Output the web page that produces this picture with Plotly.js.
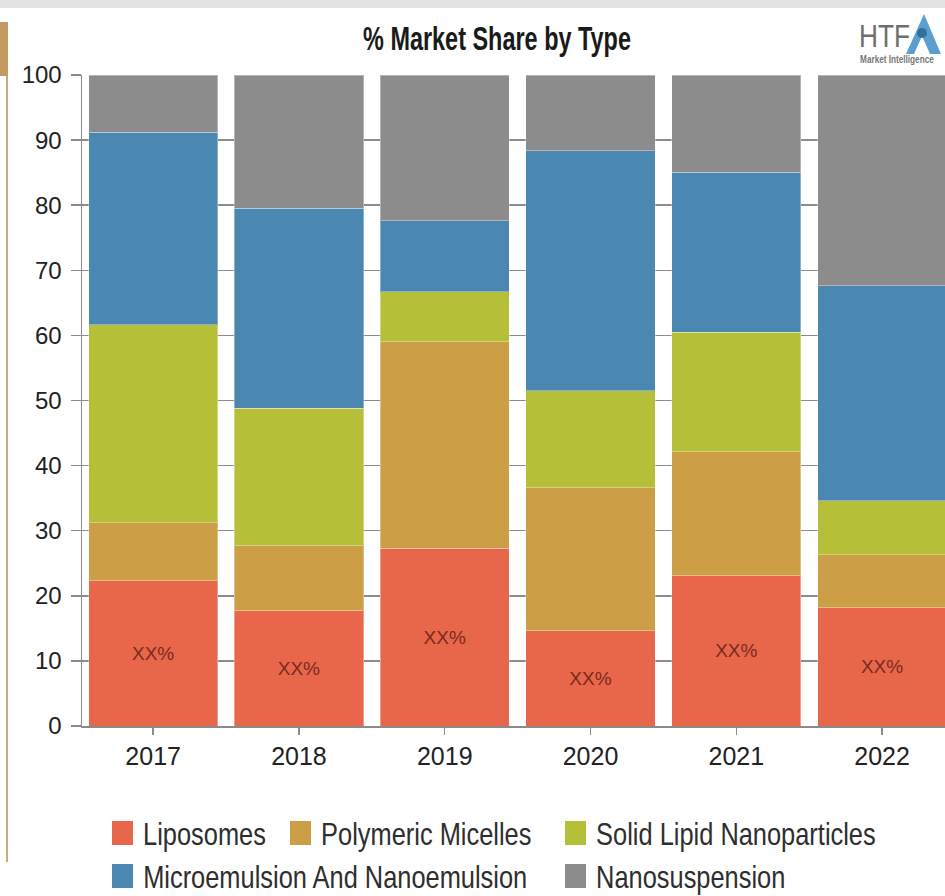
<!DOCTYPE html>
<html>
<head>
<meta charset="utf-8">
<script src="https://cdn.plot.ly/plotly-3.0.1.min.js"></script>
<style>
  html, body { margin: 0; padding: 0; background: #ffffff; overflow: hidden; }
  #chart { width: 960px; height: 896px; }
  /* condensed look for the title and the free-standing labels */
  #chart .gtitle {
    transform-box: fill-box;
    transform-origin: 50% 50%;
    transform: scaleX(0.69);
  }
  #chart .annotation-text {
    transform-box: fill-box;
    transform-origin: 0% 50%;
    transform: scaleX(0.82);
  }
</style>
</head>
<body>
<div id="chart"></div>
<script>
// Market share by product type, per year (percent of total, stacked to 100)
const years = ['2017', '2018', '2019', '2020', '2021', '2022'];
const liposomes = [22.3, 17.7, 27.3, 14.6, 23.1, 18.2];
const polymericMicelles = [8.9, 10.0, 31.7, 22.0, 19.0, 8.1];
const solidLipidNanoparticles = [30.4, 21.1, 7.7, 14.9, 18.4, 8.3];
const microNanoemulsion = [29.6, 30.7, 10.9, 36.9, 24.6, 33.0];
const nanosuspension = [8.8, 20.5, 22.4, 11.6, 14.9, 32.4];
const liposomeLabels = ['XX%', 'XX%', 'XX%', 'XX%', 'XX%', 'XX%'];

const seriesNames = [
  'Liposomes',
  'Polymeric Micelles',
  'Solid Lipid Nanoparticles',
  'Microemulsion And Nanoemulsion',
  'Nanosuspension'
];
const seriesValues = [liposomes, polymericMicelles, solidLipidNanoparticles, microNanoemulsion, nanosuspension];
const seriesColors = ['#e8674b', '#cc9e45', '#b5bf37', '#4a88b2', '#8c8c8c'];

const FONT = '"Liberation Sans", Arial, sans-serif';

// plot area geometry in page pixels
const W = 960, H = 896;
const M = { l: 82, r: 5, t: 75, b: 170 };
const plotW = W - M.l - M.r;
const plotH = H - M.t - M.b;
const px = x => (x - M.l) / plotW;
const py = y => (H - M.b - y) / plotH;

const traces = seriesNames.map((name, i) => ({
  type: 'bar',
  name: name,
  x: years,
  y: seriesValues[i],
  marker: { color: seriesColors[i], line: { color: 'rgba(255,255,255,0.35)', width: 1 } },
  text: i === 0 ? liposomeLabels : undefined,
  textposition: i === 0 ? 'inside' : 'none',
  insidetextanchor: 'middle',
  textangle: 0,
  insidetextfont: { family: FONT, size: 19, color: '#7a2a1d' },
  hoverinfo: 'skip',
  showlegend: false
}));

// legend drawn as swatches + labels in two rows
const legendItems = [
  { idx: 0, x: 112, y: 833 },
  { idx: 1, x: 290, y: 833 },
  { idx: 2, x: 565, y: 833 },
  { idx: 3, x: 112, y: 876 },
  { idx: 4, x: 565, y: 876 }
];

const shapes = [];
const annotations = [];

legendItems.forEach(it => {
  shapes.push({
    type: 'rect', xref: 'paper', yref: 'paper', layer: 'above',
    x0: px(it.x), x1: px(it.x + 21), y0: py(it.y - 12), y1: py(it.y + 12),
    fillcolor: seriesColors[it.idx], line: { width: 0 }
  });
  annotations.push({
    xref: 'paper', yref: 'paper', x: px(it.x + 29), y: py(it.y + 1),
    xanchor: 'left', yanchor: 'middle', showarrow: false,
    text: seriesNames[it.idx],
    font: { family: FONT, size: 31, color: '#2e2e2e' }
  });
});

// page frame: grey strip on top, tan rule down the left side
shapes.push({
  type: 'rect', xref: 'paper', yref: 'paper', layer: 'below',
  x0: px(0), x1: px(W), y0: py(8), y1: py(0),
  fillcolor: '#e3e3e3', line: { width: 0 }
});
shapes.push({
  type: 'rect', xref: 'paper', yref: 'paper', layer: 'below',
  x0: px(0), x1: px(8), y0: py(76), y1: py(22),
  fillcolor: '#c59a62', line: { width: 0 }
});
shapes.push({
  type: 'line', xref: 'paper', yref: 'paper', layer: 'below',
  x0: px(7), x1: px(7), y0: py(76), y1: py(862),
  line: { color: '#c8ab7e', width: 2 }
});

// HTF logo mark
shapes.push({
  type: 'path', xref: 'paper', yref: 'paper', layer: 'above',
  path: 'M ' + px(906) + ' ' + py(54) + ' L ' + px(924) + ' ' + py(14) +
        ' L ' + px(941) + ' ' + py(54) + ' L ' + px(930) + ' ' + py(54) +
        ' L ' + px(922) + ' ' + py(36) + ' L ' + px(914) + ' ' + py(54) + ' Z',
  fillcolor: '#5c9fcf', line: { width: 0 }
});
shapes.push({
  type: 'circle', xref: 'paper', yref: 'paper', layer: 'above',
  x0: px(917), x1: px(927), y0: py(38), y1: py(28),
  fillcolor: '#2f6f9f', line: { width: 0 }
});
annotations.push({
  xref: 'paper', yref: 'paper', x: px(857), y: py(36),
  xanchor: 'left', yanchor: 'middle', showarrow: false,
  text: 'HTF', font: { family: FONT, size: 32, color: '#6e6e6e' }
});
annotations.push({
  xref: 'paper', yref: 'paper', x: px(858), y: py(60),
  xanchor: 'left', yanchor: 'middle', showarrow: false,
  text: '<b>Market Intelligence</b>', font: { family: FONT, size: 10, color: '#777777' }
});

const layout = {
  width: W,
  height: H,
  margin: M,
  barmode: 'stack',
  bargap: 0.114,
  paper_bgcolor: '#ffffff',
  plot_bgcolor: '#ffffff',
  showlegend: false,
  hovermode: false,
  title: {
    text: '<b>% Market Share by Type</b>',
    font: { family: FONT, size: 34, color: '#1a1a1a' },
    xref: 'container', yref: 'container',
    x: 497 / W, y: 1 - 38 / H, xanchor: 'center', yanchor: 'middle'
  },
  xaxis: {
    type: 'category',
    range: [-0.488, 5.5],
    showline: true, linecolor: '#8a8a8a', linewidth: 1.5,
    ticks: 'outside', ticklen: 7, tickcolor: '#8a8a8a', tickwidth: 1.5,
    showgrid: false, zeroline: false,
    tickfont: { family: FONT, size: 25, color: '#222222' },
    fixedrange: true
  },
  yaxis: {
    range: [0, 100],
    tickvals: [0, 10, 20, 30, 40, 50, 60, 70, 80, 90, 100],
    showline: true, linecolor: '#8a8a96', linewidth: 1.5,
    ticks: 'outside', ticklen: 10, tickcolor: '#8a8a8a', tickwidth: 1.5,
    ticklabelstandoff: 4,
    showgrid: true, gridcolor: '#8c8c8c', gridwidth: 1.5,
    zeroline: false,
    tickfont: { family: FONT, size: 24, color: '#222222' },
    fixedrange: true
  },
  shapes: shapes,
  annotations: annotations
};

Plotly.newPlot('chart', traces, layout, { displayModeBar: false, staticPlot: true });
</script>
</body>
</html>
